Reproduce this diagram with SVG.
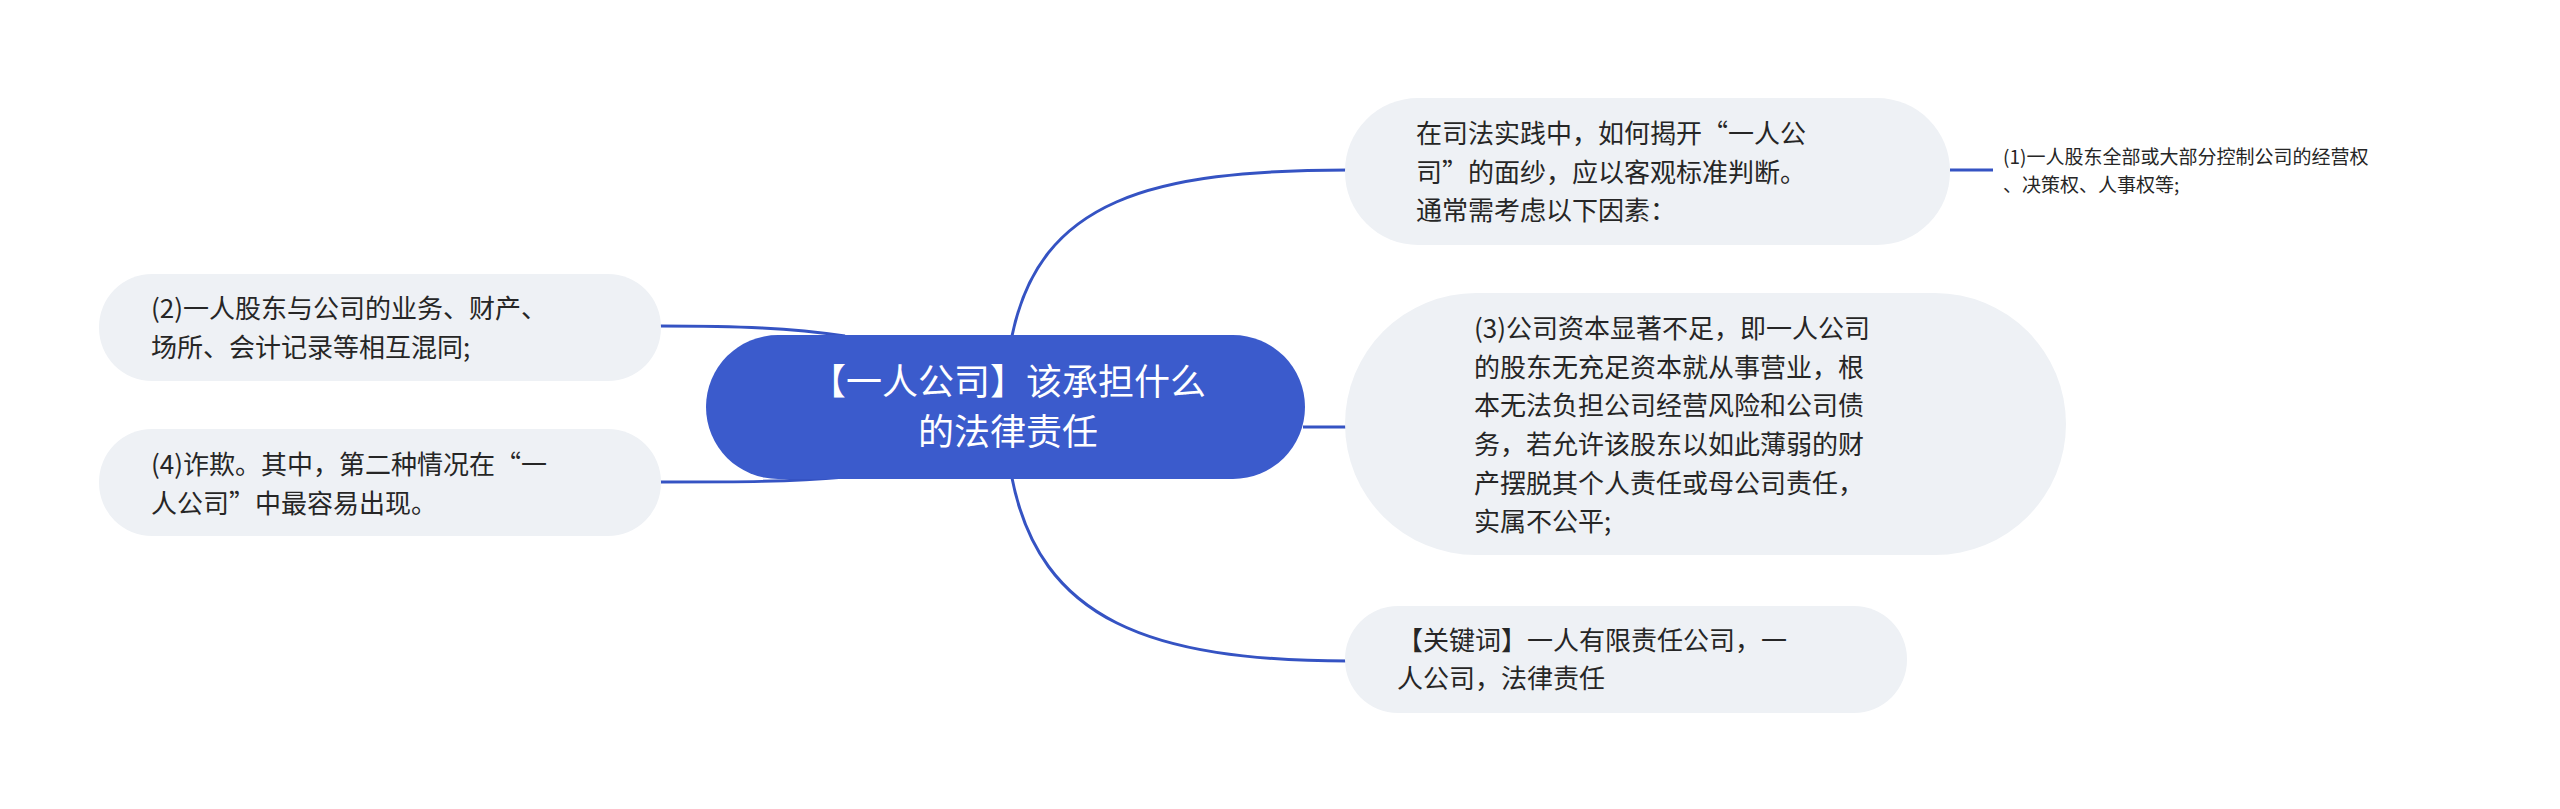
<svg xmlns="http://www.w3.org/2000/svg" width="2560" height="809" viewBox="0 0 2560 809">
<style>
.n{fill:#eef1f5}
.t{font-family:"Noto Sans CJK SC","Liberation Sans",sans-serif;font-size:26px;fill:#262626}
.s{font-family:"Noto Sans CJK SC","Liberation Sans",sans-serif;font-size:19px;fill:#262626}
.c{font-family:"Noto Sans CJK SC","Liberation Sans",sans-serif;font-size:36px;fill:#ffffff}
.l{fill:none;stroke:#3553c3;stroke-width:3}
</style>
<rect width="2560" height="809" fill="#ffffff"/>
<g id="connectors">
<path class="l" d="M1012,336 C1040,200 1150,170 1349,170"/>
<path class="l" d="M1303,427 L1349,427"/>
<path class="l" d="M1012,478 C1040,620 1150,661 1349,661"/>
<path class="l" d="M845,336 C790,328 740,326 660,326"/>
<path class="l" d="M845,477 C790,482 740,482 660,482"/>
<path class="l" d="M1950,170 L1993,170"/>
</g>
<g id="center">
<rect x="706" y="335" width="599" height="144" rx="72" fill="#3b5bcc"/>
<text class="c" x="1008" y="395" text-anchor="middle">【一人公司】该承担什么</text>
<text class="c" x="1008" y="445" text-anchor="middle">的法律责任</text>
</g>
<g id="node-top">
<rect class="n" x="1345" y="98" width="605" height="147" rx="73"/>
<text class="t" x="1416" y="143">在司法实践中，如何揭开“一人公</text>
<text class="t" x="1416" y="182">司”的面纱，应以客观标准判断。</text>
<text class="t" x="1416" y="220">通常需考虑以下因素：</text>
</g>
<g id="node-1">
<text class="s" x="2003" y="164">(1)一人股东全部或大部分控制公司的经营权</text>
<text class="s" x="2003" y="192">、决策权、人事权等;</text>
</g>
<g id="node-3">
<rect class="n" x="1345" y="293" width="721" height="262" rx="131"/>
<text class="t" x="1474" y="338">(3)公司资本显著不足，即一人公司</text>
<text class="t" x="1474" y="377">的股东无充足资本就从事营业，根</text>
<text class="t" x="1474" y="415">本无法负担公司经营风险和公司债</text>
<text class="t" x="1474" y="454">务，若允许该股东以如此薄弱的财</text>
<text class="t" x="1474" y="493">产摆脱其个人责任或母公司责任，</text>
<text class="t" x="1474" y="531">实属不公平;</text>
</g>
<g id="node-keyword">
<rect class="n" x="1345" y="606" width="562" height="107" rx="53"/>
<text class="t" x="1397" y="650">【关键词】一人有限责任公司，一</text>
<text class="t" x="1397" y="688">人公司，法律责任</text>
</g>
<g id="node-2">
<rect class="n" x="99" y="274" width="562" height="107" rx="53"/>
<text class="t" x="151" y="318">(2)一人股东与公司的业务、财产、</text>
<text class="t" x="151" y="357">场所、会计记录等相互混同;</text>
</g>
<g id="node-4">
<rect class="n" x="99" y="429" width="562" height="107" rx="53"/>
<text class="t" x="151" y="474">(4)诈欺。其中，第二种情况在“一</text>
<text class="t" x="151" y="513">人公司”中最容易出现。</text>
</g>
</svg>
